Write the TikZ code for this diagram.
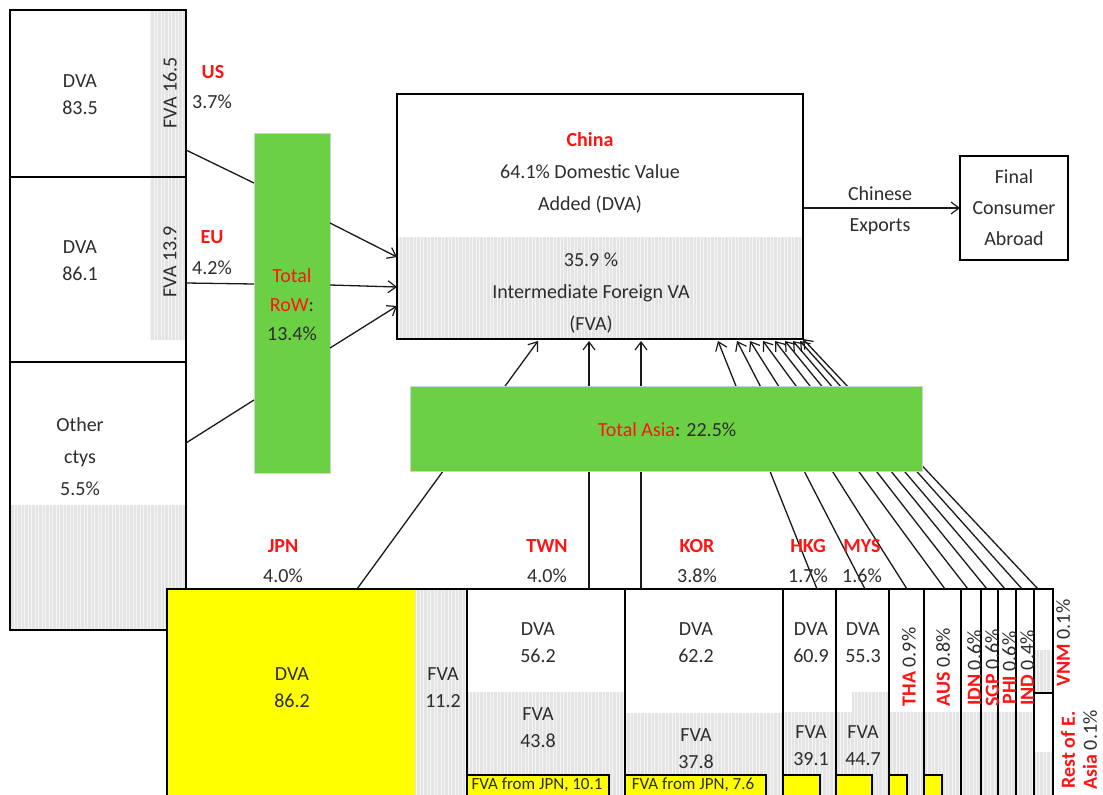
\documentclass[tikz,border=0pt]{standalone}
\usepackage{fontspec}
\setmainfont{Carlito}
\usetikzlibrary{arrows.meta,patterns.meta}
\definecolor{tgreen}{RGB}{108,208,68}
\definecolor{tred}{RGB}{255,20,20}
\definecolor{ttext}{RGB}{45,45,45}
\definecolor{hatchbg}{RGB}{228,228,228}
\definecolor{hatchfg}{RGB}{245,245,245}
\definecolor{tyellow}{RGB}{255,255,0}
\newcommand{\cty}[1]{{\bfseries\color{tred}#1}}
\newcommand{\ctyn}[1]{{\color{tred}#1}}
\tikzset{
  hatch/.style={fill=hatchbg, postaction={pattern={Lines[angle=90,distance=3.5pt,line width=0.9pt]}, pattern color=hatchfg}},
  cell/.style={draw=black, line width=1.2pt, anchor=north west, inner sep=0pt, outer sep=0pt},
  mainbox/.style={cell, line width=2pt},
  greenbox/.style={cell, fill=tgreen, draw=black!18, line width=1pt},
  ybox/.style={cell, fill=tyellow, line width=1.4pt},
  lbl/.style={font=\fontsize{20}{27}\selectfont, text=ttext, align=center, inner sep=0pt},
  lblw/.style={lbl, font=\fontsize{20}{31}\selectfont},
  vlbl/.style={lbl, rotate=90},
  smalllbl/.style={font=\fontsize{17}{20}\selectfont, text=ttext, inner sep=0pt},
  conn/.style={line width=1.3pt, draw=black!90},
  arr/.style={conn, -{Straight Barb[length=8pt,width=12pt,line width=1.2pt]}},
  thickline/.style={line width=2.2pt},
}
\begin{document}
\begin{tikzpicture}[x=1pt,y=-1pt]
\useasboundingbox (0,0) rectangle (1103,795);

% ---------- hatched (FVA) regions ----------
\fill[hatch] (150,10) rectangle (186,177);
\fill[hatch] (150,177) rectangle (186,340);
\fill[hatch] (10,505) rectangle (186,630);
\fill[hatch] (397,237) rectangle (803,339);

% ---------- left panel ----------
\node[cell, minimum width=176pt, minimum height=167pt] (us) at (10,10) {};
\node[cell, minimum width=176pt, minimum height=185pt] (eu) at (10,177) {};
\node[cell, minimum width=176pt, minimum height=268pt] (oth) at (10,362) {};
\draw[thickline] (us.north west) rectangle (oth.south east);

% ---------- bottom hatched regions ----------
\fill[hatch] (415,589) rectangle (467,795);
\fill[hatch] (467,692) rectangle (625,795);
\fill[hatch] (625,713) rectangle (783,795);
\fill[hatch] (783,712) rectangle (836,795);
\fill[hatch] (836,712) rectangle (889,795);
\fill[hatch] (852,692) rectangle (889,712);
\fill[hatch] (889,712) rectangle (1034,795);
\fill[hatch] (1034,650) rectangle (1053,693);
\fill[hatch] (1034,752) rectangle (1053,795);
\fill[tyellow] (167,589) rectangle (415,795);

% ---------- bottom boxes ----------
\node[cell, minimum width=300pt, minimum height=207pt] (jpn) at (167,589) {};
\node[cell, minimum width=158pt, minimum height=207pt] (twn) at (467,589) {};
\node[cell, minimum width=158pt, minimum height=207pt] (kor) at (625,589) {};
\node[cell, minimum width=53pt, minimum height=207pt] (hkg) at (783,589) {};
\node[cell, minimum width=53pt, minimum height=207pt] (mys) at (836,589) {};
\node[cell, minimum width=35pt, minimum height=207pt] (tha) at (889,589) {};
\node[cell, minimum width=37pt, minimum height=207pt] (aus) at (924,589) {};
\node[cell, minimum width=20pt, minimum height=207pt] (idn) at (961,589) {};
\node[cell, minimum width=17pt, minimum height=207pt] (sgp) at (981,589) {};
\node[cell, minimum width=18pt, minimum height=207pt] (phi) at (998,589) {};
\node[cell, minimum width=18pt, minimum height=207pt] (ind) at (1016,589) {};
\node[cell, minimum width=19pt, minimum height=104pt] (vnm) at (1034,589) {};
\node[cell, minimum width=19pt, minimum height=103pt] (rest) at (1034,693) {};
\draw[thickline] (idn.north west) rectangle (idn.south east);
\draw[thickline] (ind.north west) -- (ind.south west);
\draw[thickline] (vnm.north east) -- (rest.south east);
\draw[thickline] (vnm.south west) -- (vnm.south east);

% small yellow "FVA from JPN" boxes
\node[ybox, minimum width=142pt, minimum height=22pt] (twnY) at (467,775) {};
\node[ybox, minimum width=141pt, minimum height=22pt] (korY) at (625,775) {};
\node[ybox, minimum width=37pt, minimum height=22pt] (hkgY) at (783,775) {};
\node[ybox, minimum width=36pt, minimum height=22pt] (mysY) at (836,775) {};
\node[ybox, minimum width=18pt, minimum height=22pt] (thaY) at (889,775) {};
\node[ybox, minimum width=18pt, minimum height=22pt] (ausY) at (924,775) {};

% ---------- China and final consumer ----------
\node[mainbox, minimum width=406pt, minimum height=245pt] (china) at (397,94) {};
\node[mainbox, lblw, minimum width=108pt, minimum height=104pt] (final) at (960,156) {Final\\Consumer\\Abroad};
\draw[arr] (china.east |- final.west) -- (final.west);

% ---------- Total RoW ----------
\node[greenbox, minimum width=76pt, minimum height=340pt] (rowbox) at (254,133) {};
\coordinate (usO) at (186,150);  \coordinate (rowI1) at (254,183);
\coordinate (euO) at (186,283);  \coordinate (rowI2) at (254,284);
\coordinate (othO) at (186,443); \coordinate (rowI3) at (254,400);
\coordinate (rowO1) at (330,223); \coordinate (chI1) at (397,257);
\coordinate (rowO2) at (330,285); \coordinate (chI2) at (397,287);
\coordinate (rowO3) at (330,348); \coordinate (chI3) at (397,306);
\draw[conn] (usO) -- (rowI1);
\draw[conn] (euO) -- (rowI2);
\draw[conn] (othO) -- (rowI3);
\draw[arr] (rowO1) -- (chI1);
\draw[arr] (rowO2) -- (chI2);
\draw[arr] (rowO3) -- (chI3);

% ---------- Asia connectors (under the Total Asia bar) ----------
\foreach \n/\bx/\cx in {jpn/357/538, twn/589/589, kor/641/641, hkg/817/718, mys/865/737, tha/907/750, aus/945/763, idn/968/775, sgp/987/785, phi/1005/793, ind/1022/800}{
  \coordinate (\n-top) at (\bx,589);
  \coordinate (\n-cn) at (\cx,341);
  \draw[arr] (\n-top) -- (\n-cn);
}
\coordinate (vnm-top) at (1038,589);
\draw[arr] (vnm-top) -- (china.south east);

\node[greenbox, minimum width=512pt, minimum height=85pt] (asia) at (410,386) {};

% ---------- texts ----------
\node[lbl] (tUSdva) at (80,95) {DVA\\83.5};
\node[vlbl] (tUSfva) at (170,93) {FVA 16.5};
\node[lbl] (tUS) at (213,72) {\cty{US}};
\node[lbl] (tUSp) at (212,102) {3.7\%};
\node[lbl] (tEUdva) at (80,261) {DVA\\86.1};
\node[vlbl] (tEUfva) at (170,262) {FVA 13.9};
\node[lbl] (tEU) at (212,237) {\cty{EU}};
\node[lbl] (tEUp) at (212,268) {4.2\%};
\node[lbl, font=\fontsize{20}{32}\selectfont] (tOth) at (80,457) {Other\\ctys\\5.5\%};

\node[lbl, font=\fontsize{20}{29}\selectfont] (tRow) at (292,305) {\ctyn{Total}\\\ctyn{RoW}:\\13.4\%};

\node[lbl, font=\fontsize{20}{32}\selectfont] (tChina) at (590,173) {\cty{China}\\64.1\% Domestic Value\\Added (DVA)};
\node[lbl, font=\fontsize{20}{32}\selectfont] (tFva) at (591,293) {35.9 \%\\Intermediate Foreign VA\\(FVA)};
\node[lblw] (tExp) at (880,211) {Chinese\\Exports};

\node[lbl] (tAsia) at (667,430) {\ctyn{Total Asia}: 22.5\%};

\node[lbl] (tJPN) at (283,546) {\cty{JPN}};
\node[lbl] (tJPNp) at (283,576) {4.0\%};
\node[lbl] (tTWN) at (547,546) {\cty{TWN}};
\node[lbl] (tTWNp) at (547,576) {4.0\%};
\node[lbl] (tKOR) at (697,546) {\cty{KOR}};
\node[lbl] (tKORp) at (697,576) {3.8\%};
\node[lbl] (tHKG) at (808,546) {\cty{HKG}};
\node[lbl] (tHKGp) at (808,576) {1.7\%};
\node[lbl] (tMYS) at (862,546) {\cty{MYS}};
\node[lbl] (tMYSp) at (862,576) {1.6\%};

\node[lbl] (jDva) at (292,688) {DVA\\86.2};
\node[lbl] (jFva) at (443,688) {FVA\\11.2};
\node[lbl] (wDva) at (538,643) {DVA\\56.2};
\node[lbl] (wFva) at (538,728) {FVA\\43.8};
\node[lbl] (kDva) at (696,643) {DVA\\62.2};
\node[lbl] (kFva) at (696,749) {FVA\\37.8};
\node[lbl] (hDva) at (811,643) {DVA\\60.9};
\node[lbl] (hFva) at (811,746) {FVA\\39.1};
\node[lbl] (mDva) at (863,643) {DVA\\55.3};
\node[lbl] (mFva) at (863,746) {FVA\\44.7};
\node[smalllbl] (twnYt) at (537,785) {FVA from JPN, 10.1};
\node[smalllbl] (korYt) at (693,785) {FVA from JPN, 7.6};

\node[vlbl] (tTHA) at (909,667) {\cty{THA} 0.9\%};
\node[vlbl] (tAUS) at (943,667) {\cty{AUS} 0.8\%};
\node[vlbl] (tIDN) at (974,668) {\cty{IDN} 0.6\%};
\node[vlbl] (tSGP) at (992,668) {\cty{SGP} 0.6\%};
\node[vlbl] (tPHI) at (1009,668) {\cty{PHI} 0.6\%};
\node[vlbl] (tIND) at (1027,668) {\cty{IND} 0.4\%};
\node[vlbl] (tVNM) at (1063,643) {\cty{VNM} 0.1\%};
\node[vlbl, font=\fontsize{20}{22}\selectfont] (tRest) at (1079,750) {\cty{Rest of E.}\\\cty{Asia} 0.1\%};
\end{tikzpicture}
\end{document}
